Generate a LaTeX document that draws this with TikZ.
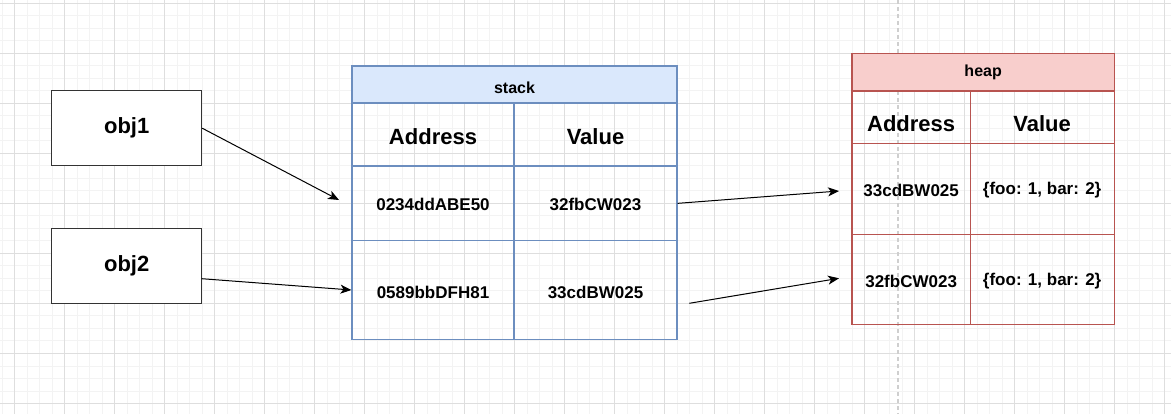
\documentclass[tikz,border=0pt]{standalone}
\usepackage{fontspec}
\setmainfont{Liberation Sans}
\usetikzlibrary{arrows.meta}
\definecolor{stackfill}{HTML}{DAE8FC}
\definecolor{stackline}{HTML}{6C8EBF}
\definecolor{heapfill}{HTML}{F8CECC}
\definecolor{heapline}{HTML}{B85450}
\definecolor{gridmajor}{HTML}{DEDEDE}
\definecolor{gridminor}{HTML}{F3F3F3}
\definecolor{dashgray}{HTML}{CFCFCF}
\tikzset{
  objbox/.style={draw=black!80, line width=1pt, fill=white, inner sep=0pt,
    minimum width=150pt, minimum height=75pt, font=\fontsize{22}{26}\selectfont\bfseries},
  scell/.style={draw=stackline, line width=1.1pt, inner sep=0pt},
  hcell/.style={draw=heapline, line width=1.1pt, inner sep=0pt},
  hdrfont/.style={font=\fontsize{16}{19}\selectfont\bfseries},
  colfont/.style={font=\fontsize{22}{26}\selectfont\bfseries},
  valfont/.style={font=\fontsize{17}{20}\selectfont\bfseries},
  conn/.style={draw=black, line width=1pt, -{Stealth[length=11pt,width=9pt,inset=3pt]}},
}
\begin{document}
\begin{tikzpicture}[x=1pt,y=-1pt]
\useasboundingbox (0,0) rectangle (1171,414);
\fill[white] (0,0) rectangle (1171,414);
% grid
\foreach \i in {0,...,93} { \draw[gridminor, line width=1pt] (2+12.5*\i,0) -- (2+12.5*\i,414); }
\foreach \i in {0,...,32} { \draw[gridminor, line width=1pt] (0,3.5+12.5*\i) -- (1171,3.5+12.5*\i); }
\foreach \i in {0,...,23} { \draw[gridmajor, line width=1pt] (14.5+50*\i,0) -- (14.5+50*\i,414); }
\foreach \i in {0,...,8} { \draw[gridmajor, line width=1pt] (0,3.5+50*\i) -- (1171,3.5+50*\i); }
% dashed divider
\draw[dashgray, line width=1.4pt, dash pattern=on 4pt off 3pt] (898,0) -- (898,414);

% objects
\node[objbox] (obj1) at (126.7,128.2) {obj1};
\node[objbox] (obj2) at (126.7,265.8) {obj2};

% stack table
\node[scell, fill=stackfill, minimum width=325pt, minimum height=37pt,
  label={[hdrfont,yshift=-2.8pt]center:stack}] (stack) at (514.5,84.5) {};
\node[scell, minimum width=162pt, minimum height=63pt,
  label={[colfont,yshift=-2.3pt]center:Address}] (sa0) at (433,134.5) {};
\node[scell, minimum width=163pt, minimum height=63pt,
  label={[colfont,yshift=-2.3pt]center:Value}] (sv0) at (595.5,134.5) {};
\node[scell, minimum width=162pt, minimum height=74.7pt,
  label={[valfont,yshift=-0.8pt]center:0234ddABE50}] (sa1) at (433,203.35) {};
\node[scell, minimum width=163pt, minimum height=74.7pt,
  label={[valfont,yshift=-0.8pt]center:32fbCW023}] (sv1) at (595.5,203.35) {};
\node[scell, minimum width=162pt, minimum height=98.6pt,
  label={[valfont,yshift=-2pt]center:0589bbDFH81}] (sa2) at (433,290) {};
\node[scell, minimum width=163pt, minimum height=98.6pt,
  label={[valfont,yshift=-2pt]center:33cdBW025}] (sv2) at (595.5,290) {};

% heap table
\node[hcell, fill=heapfill, minimum width=262.3pt, minimum height=37.7pt,
  label={[hdrfont,yshift=-0.3pt]center:heap}] (heap) at (983.15,72.15) {};
\node[hcell, minimum width=118.3pt, minimum height=52.5pt,
  label={[colfont,yshift=-6pt]center:Address}] (ha0) at (911.15,117.25) {};
\node[hcell, minimum width=144pt, minimum height=52.5pt,
  label={[colfont,yshift=-6pt]center:Value}] (hv0) at (1042.15,117.25) {};
\node[hcell, minimum width=118.3pt, minimum height=91pt,
  label={[valfont,yshift=-1.6pt]center:33cdBW025}] (ha1) at (911.15,189) {};
\node[hcell, minimum width=144pt, minimum height=91pt,
  label={[valfont,yshift=-1.6pt]center:\{foo: 1, bar: 2\}}] (hv1) at (1042.15,189) {};
\node[hcell, minimum width=118.3pt, minimum height=90pt,
  label={[valfont,yshift=-1.5pt]center:32fbCW023}] (ha2) at (911.15,279.5) {};
\node[hcell, minimum width=144pt, minimum height=90pt,
  label={[valfont,yshift=-1.5pt]center:\{foo: 1, bar: 2\}}] (hv2) at (1042.15,279.5) {};

% connector free ends
\coordinate (e1) at (339,200);
\coordinate (s2) at (201.7,278.7);
\coordinate (e3) at (839,191);
\coordinate (s4) at (689.3,303.3);
\coordinate (e4) at (839,278.3);

\draw[conn] (obj1.east) -- (e1);
\draw[conn] (s2) -- (sa2.west);
\draw[conn] (sv1.east) -- (e3);
\draw[conn] (s4) -- (e4);
\end{tikzpicture}
\end{document}
